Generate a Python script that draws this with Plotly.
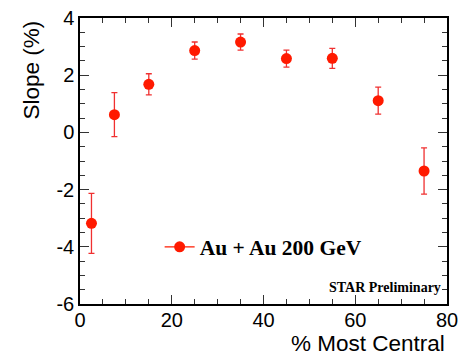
import plotly.graph_objects as go

# Centrality bins (% most central) and measured slope with errors
centrality = [2.5, 7.5, 15, 25, 35, 45, 55, 65, 75]
slope = [-3.18, 0.62, 1.68, 2.86, 3.16, 2.58, 2.59, 1.11, -1.35]
slope_err = [1.05, 0.77, 0.37, 0.30, 0.28, 0.30, 0.35, 0.47, 0.81]

x_ticks = [0, 20, 40, 60, 80]
y_ticks = [-6, -4, -2, 0, 2, 4]

RED = "#ff1a00"
SANS = "Liberation Sans, Arial, sans-serif"
SERIF = "Liberation Serif, Times New Roman, serif"
TICK_FONT = dict(family=SANS, size=20, color="black")
TITLE_FONT = dict(family=SANS, size=22.5, color="black")

fig = go.Figure()

fig.add_trace(go.Scatter(
    x=centrality, y=slope,
    mode="markers",
    marker=dict(color=RED, size=11, symbol="circle"),
    error_y=dict(type="data", array=slope_err, color="#f03030", thickness=1.3, width=3),
    showlegend=False,
))

# legend entry drawn as line + marker
fig.add_trace(go.Scatter(
    x=[None], y=[None],
    mode="lines+markers",
    line=dict(color=RED, width=1.3),
    marker=dict(color=RED, size=11),
    name="<b>Au + Au 200 GeV</b>",
    showlegend=True,
))

axis_common = dict(
    showgrid=False, zeroline=False, automargin=False,
    showline=True, linecolor="black", linewidth=1.5,
    mirror="allticks",
    ticks="inside", ticklen=9, tickwidth=1, tickcolor="#333",
    tickfont=TICK_FONT, ticklabeloverflow="allow",
)

fig.update_xaxes(
    range=[0, 80], tickvals=x_ticks, ticktext=[str(v) for v in x_ticks],
    minor=dict(dtick=5, ticks="inside", ticklen=5, tickcolor="#333", showgrid=False),
    ticklabelstandoff=-3,
    **axis_common,
)
fig.update_yaxes(
    range=[-6, 4], tickvals=y_ticks, ticktext=[str(v) for v in y_ticks],
    minor=dict(dtick=0.5, ticks="inside", ticklen=5, tickcolor="#333", showgrid=False),
    **axis_common,
)

# axis titles placed at the axis ends
fig.add_annotation(
    text="Slope (%)", xref="paper", yref="paper",
    x=-0.131, y=1.0, xanchor="center", yanchor="top", textangle=-90,
    showarrow=False, font=TITLE_FONT,
)
fig.add_annotation(
    text="% Most Central", xref="paper", yref="paper",
    x=1.0, y=-0.139, xanchor="right", yanchor="middle",
    showarrow=False, font=TITLE_FONT,
)

fig.add_annotation(
    text="<b>STAR Preliminary</b>", xref="paper", yref="paper",
    x=0.989, y=0.056, xanchor="right", yanchor="middle", showarrow=False,
    font=dict(family=SERIF, size=14, color="black"),
)

fig.update_layout(
    width=458, height=355,
    margin=dict(l=80, r=11, t=18, b=51),
    paper_bgcolor="white", plot_bgcolor="white",
    legend=dict(
        x=0.217, y=0.2, xanchor="left", yanchor="middle",
        bgcolor="rgba(0,0,0,0)",
        font=dict(family=SERIF, size=21.5, color="black"),
    ),
)

fig.write_html("out.html")
